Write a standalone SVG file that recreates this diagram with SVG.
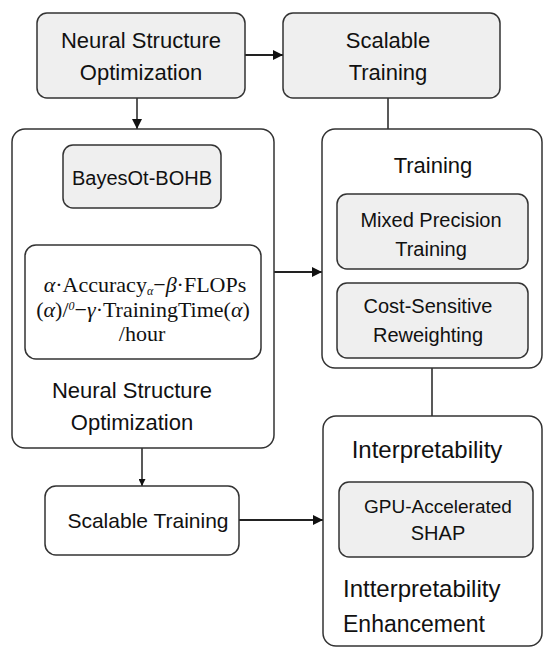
<svg xmlns="http://www.w3.org/2000/svg" width="544" height="648" viewBox="0 0 544 648">
<defs>
<style>
.g{fill:#efefef;stroke:#333;stroke-width:1.5}
.w{fill:#fff;stroke:#333;stroke-width:1.5}
.t{font-family:"Liberation Sans",Arial,sans-serif;fill:#111;text-anchor:middle}
.s{text-anchor:start}
.m{font-family:"Liberation Serif","Times New Roman",serif;fill:#111;text-anchor:middle;font-size:22px}
.c{fill:none;stroke:#222;stroke-width:2}
.c1{fill:none;stroke:#222;stroke-width:1.5}
</style>
<marker id="ah" viewBox="0 0 10 10" refX="10" refY="5" markerWidth="10" markerHeight="10" markerUnits="userSpaceOnUse" orient="auto"><path d="M0,0L10,5L0,10z" fill="#111"/></marker>
<marker id="as" viewBox="0 0 10 10" refX="10" refY="5" markerWidth="7" markerHeight="7" markerUnits="userSpaceOnUse" orient="auto"><path d="M0,0L10,5L0,10z" fill="#111"/></marker>
</defs>
<rect width="544" height="648" fill="#fff"/>
<g id="connectors">
<line class="c" x1="245" y1="55" x2="283" y2="55" marker-end="url(#ah)"/>
<line class="c1" x1="137" y1="98" x2="137" y2="129" marker-end="url(#ah)"/>
<line class="c1" x1="388" y1="98" x2="388" y2="129"/>
<line class="c1" x1="142" y1="208" x2="142" y2="245" marker-end="url(#ah)"/>
<line class="c" x1="274" y1="272" x2="322" y2="272" marker-end="url(#ah)"/>
<line class="c1" x1="432" y1="368" x2="432" y2="416"/>
<line class="c1" x1="142" y1="448" x2="142" y2="486" marker-end="url(#as)"/>
<line class="c" x1="239" y1="520" x2="323" y2="520" marker-end="url(#ah)"/>
</g>
<g id="nso-top">
<rect class="g" x="37" y="13" width="208" height="85" rx="10"/>
<text class="t" x="141" y="48" font-size="22">Neural Structure</text>
<text class="t" x="141" y="80" font-size="22">Optimization</text>
</g>
<g id="st-top">
<rect class="g" x="283" y="13" width="217" height="85" rx="10"/>
<text class="t" x="388" y="48" font-size="22">Scalable</text>
<text class="t" x="388" y="80" font-size="22">Training</text>
</g>
<g id="nso-group">
<rect class="w" x="12" y="129" width="262" height="319" rx="13"/>
<text class="t" x="132" y="398" font-size="22">Neural Structure</text>
<text class="t" x="132" y="430" font-size="22">Optimization</text>
</g>
<g id="bohb">
<rect class="g" x="63" y="145" width="158" height="63" rx="10"/>
<text class="t" x="142" y="185" font-size="20">BayesOt-BOHB</text>
</g>
<g id="formula">
<rect class="w" x="25" y="245" width="236" height="114" rx="11"/>
<text class="m" x="145" y="292"><tspan font-style="italic">α</tspan>·Accuracy<tspan font-size="12" font-style="italic" dy="3">α</tspan><tspan dy="-3">−</tspan><tspan font-style="italic">β</tspan>·FLOPs</text>
<text class="m" x="143" y="317">(<tspan font-style="italic">α</tspan>)/<tspan font-size="12" font-style="italic" dy="-7">0</tspan><tspan dy="7">−</tspan><tspan font-style="italic">γ</tspan>·TrainingTime(<tspan font-style="italic">α</tspan>)</text>
<text class="m" x="142" y="341">/hour</text>
</g>
<g id="st-bottom">
<rect class="w" x="45" y="486" width="194" height="69" rx="11"/>
<text class="t" x="148" y="528" font-size="21">Scalable Training</text>
</g>
<g id="training">
<rect class="w" x="322" y="129" width="220" height="239" rx="13"/>
<text class="t" x="433" y="173" font-size="22">Training</text>
</g>
<g id="mixed">
<rect class="g" x="337" y="194" width="191" height="75" rx="10"/>
<text class="t" x="431" y="227" font-size="20">Mixed Precision</text>
<text class="t" x="431" y="256" font-size="20">Training</text>
</g>
<g id="cost">
<rect class="g" x="337" y="283" width="191" height="75" rx="10"/>
<text class="t" x="428" y="313" font-size="20">Cost-Sensitive</text>
<text class="t" x="428" y="342" font-size="20">Reweighting</text>
</g>
<g id="interp">
<rect class="w" x="323" y="416" width="219" height="230" rx="13"/>
<text class="t" x="427" y="458" font-size="24">Interpretability</text>
<text class="t s" x="343" y="597" font-size="24">Intterpretability</text>
<text class="t s" x="343" y="632" font-size="23">Enhancement</text>
</g>
<g id="shap">
<rect class="g" x="339" y="482" width="194" height="75" rx="10"/>
<text class="t" x="438" y="513" font-size="19">GPU-Accelerated</text>
<text class="t" x="438" y="540" font-size="20">SHAP</text>
</g>
</svg>
